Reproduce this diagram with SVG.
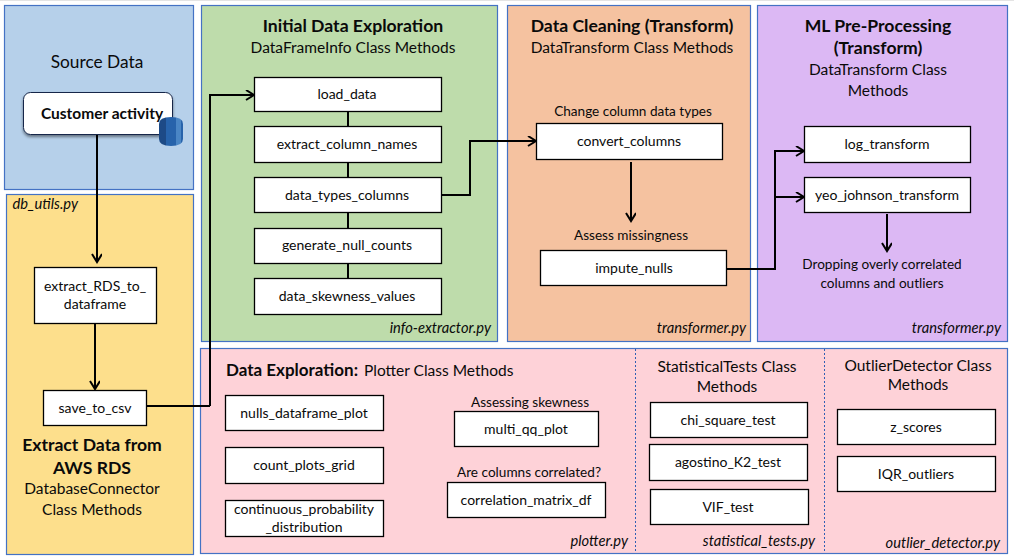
<svg xmlns="http://www.w3.org/2000/svg" width="1014" height="560" viewBox="0 0 1014 560">
<defs>
<style>
text{font-family:Lato,"Noto Sans",sans-serif;fill:#0a0a0a;text-anchor:middle}
.panel{stroke:#4472c4;stroke-width:1.2}
.box rect{fill:#fff;stroke:#000;stroke-width:1.3}
.m{font-size:14px}
.l{font-size:13.6px}
.h{font-size:15.5px}
.b{font-size:17.6px;font-weight:700}
.f{font-size:14.7px;font-style:italic;text-anchor:end}
.c{fill:none;stroke:#000;stroke-width:2}
.d{stroke:#2f5fb3;stroke-width:1;stroke-dasharray:2 2}
</style>
<marker id="a" markerWidth="12" markerHeight="12" refX="9" refY="5" orient="auto" markerUnits="userSpaceOnUse"><path d="M1 0L9 5L1 10" fill="none" stroke="#000" stroke-width="2"/></marker>
<linearGradient id="db" x1="0" x2="1" y1="0" y2="0"><stop offset="0" stop-color="#1d4a86"/><stop offset=".3" stop-color="#1d4a86"/><stop offset=".3" stop-color="#2763ab"/><stop offset=".7" stop-color="#2763ab"/><stop offset=".7" stop-color="#4a86c5"/><stop offset=".9" stop-color="#4a86c5"/><stop offset=".9" stop-color="#2763ab"/></linearGradient>
<filter id="s" x="-10%" y="-10%" width="120%" height="130%"><feDropShadow dx="0" dy="2" stdDeviation="1.5" flood-color="#000" flood-opacity=".45"/></filter>
</defs>
<rect width="1014" height="560" fill="#fff"/>
<rect width="1014" height="1" fill="#e4e4e4"/>
<g id="panels">
<rect id="p-source" class="panel" x="4.500" y="5.500" width="189" height="184" fill="#b6d0ea"/>
<rect id="p-extract" class="panel" x="6.500" y="194.500" width="187" height="360" fill="#fddf8c"/>
<rect id="p-explore" class="panel" x="201.500" y="5.500" width="296" height="336" fill="#bedcab"/>
<rect id="p-clean" class="panel" x="507.500" y="5.500" width="243" height="336" fill="#f5c2a0"/>
<rect id="p-ml" class="panel" x="757.500" y="5.500" width="250" height="336" fill="#dcb8f4"/>
<rect id="p-plot" class="panel" x="200.500" y="348.500" width="807" height="205" fill="#fed2d8"/>
<line class="d" x1="635.500" y1="349" x2="635.500" y2="553"/>
<line class="d" x1="824.500" y1="349" x2="824.500" y2="553"/>
</g>
<g id="panel-labels">
<text x="97" y="68" style="font-size:17.3px">Source Data</text>
<text class="f" x="78" y="209">db_utils.py</text>
<text class="b" x="92" y="451">Extract Data from</text>
<text class="b" x="92" y="474">AWS RDS</text>
<text class="h" x="92" y="494">DatabaseConnector</text>
<text class="h" x="92" y="515">Class Methods</text>
<text class="b" x="353" y="32">Initial Data Exploration</text>
<text class="h" x="353" y="53">DataFrameInfo Class Methods</text>
<text class="f" x="491" y="333">info-extractor.py</text>
<text class="b" x="632" y="32">Data Cleaning (Transform)</text>
<text class="h" x="632" y="53">DataTransform Class Methods</text>
<text class="l" x="633" y="116">Change column data types</text>
<text class="l" x="631" y="240">Assess missingness</text>
<text class="f" x="746" y="333">transformer.py</text>
<text class="b" x="878" y="32">ML Pre-Processing</text>
<text class="b" x="878" y="54">(Transform)</text>
<text class="h" x="878" y="75">DataTransform Class</text>
<text class="h" x="878" y="96">Methods</text>
<text class="l" x="882" y="269">Dropping overly correlated</text>
<text class="l" x="882" y="288">columns and outliers</text>
<text class="f" x="1001" y="333">transformer.py</text>
<text x="226" y="376" style="text-anchor:start;font-size:17px;font-weight:700">Data Exploration:</text>
<text class="h" x="364" y="376" style="text-anchor:start">Plotter Class Methods</text>
<text class="l" x="530" y="407">Assessing skewness</text>
<text class="l" x="529" y="477">Are columns correlated?</text>
<text class="f" x="628" y="546">plotter.py</text>
<text class="h" x="727" y="372">StatisticalTests Class</text>
<text class="h" x="727" y="392">Methods</text>
<text class="f" x="815" y="546">statistical_tests.py</text>
<text class="h" x="918" y="371">OutlierDetector Class</text>
<text class="h" x="918" y="390">Methods</text>
<text class="f" x="1000" y="548">outlier_detector.py</text>
</g>
<g id="connectors">
<path class="c" marker-end="url(#a)" d="M97 135V262"/>
<path class="c" marker-end="url(#a)" d="M95 324V389"/>
<path class="c" d="M147 406H210"/>
<path class="c" marker-end="url(#a)" d="M210 406V95H254"/>
<path class="c" d="M348 111V278"/>
<path class="c" marker-end="url(#a)" d="M441 195H470V141H536"/>
<path class="c" marker-end="url(#a)" d="M631 162V221"/>
<path class="c" marker-end="url(#a)" d="M727 269H775V151H804"/>
<path class="c" marker-end="url(#a)" d="M775 197H804"/>
<path class="c" marker-end="url(#a)" d="M887 214V251"/>
</g>
<g id="customer-activity">
<rect x="23.500" y="92.500" width="149" height="42" rx="7" fill="#fff" stroke="#16274a" stroke-width="1" filter="url(#s)"/>
<text x="102" y="119" style="font-size:15.5px;font-weight:700">Customer activity</text>
<path d="M159 124Q159 117 171 117Q183 117 183 124V139Q183 146 171 146Q159 146 159 139Z" fill="url(#db)"/>
</g>
<g id="extract_RDS" class="box"><rect x="34.500" y="267.500" width="122" height="56"/><text class="m" x="95" y="291">extract_RDS_to_</text><text class="m" x="95" y="309">dataframe</text></g>
<g id="save_to_csv" class="box"><rect x="43.500" y="390.500" width="103" height="35"/><text class="m" x="95" y="413">save_to_csv</text></g>
<g id="load_data" class="box"><rect x="254.500" y="77.500" width="187" height="34"/><text class="m" x="347" y="99">load_data</text></g>
<g id="extract_column_names" class="box"><rect x="254.500" y="126.500" width="187" height="36"/><text class="m" x="347" y="149">extract_column_names</text></g>
<g id="data_types_columns" class="box"><rect x="254.500" y="177.500" width="187" height="35"/><text class="m" x="347" y="200">data_types_columns</text></g>
<g id="generate_null_counts" class="box"><rect x="254.500" y="228.500" width="187" height="35"/><text class="m" x="347" y="250">generate_null_counts</text></g>
<g id="data_skewness_values" class="box"><rect x="254.500" y="278.500" width="187" height="36"/><text class="m" x="347" y="301">data_skewness_values</text></g>
<g id="convert_columns" class="box"><rect x="536.500" y="123.500" width="186" height="36"/><text class="m" x="629" y="146">convert_columns</text></g>
<g id="impute_nulls" class="box"><rect x="540.500" y="250.500" width="186" height="35"/><text class="m" x="634" y="273">impute_nulls</text></g>
<g id="log_transform" class="box"><rect x="804.500" y="126.500" width="166" height="36"/><text class="m" x="887" y="149">log_transform</text></g>
<g id="yeo_johnson_transform" class="box"><rect x="804.500" y="177.500" width="166" height="35"/><text class="m" x="887" y="200">yeo_johnson_transform</text></g>
<g id="nulls_dataframe_plot" class="box"><rect x="225.500" y="395.500" width="158" height="35"/><text class="m" x="304" y="418">nulls_dataframe_plot</text></g>
<g id="count_plots_grid" class="box"><rect x="225.500" y="447.500" width="158" height="36"/><text class="m" x="304" y="470">count_plots_grid</text></g>
<g id="continuous_probability" class="box"><rect x="225.500" y="500.500" width="158" height="36"/><text class="m" x="304" y="514">continuous_probability</text><text class="m" x="304" y="532">_distribution</text></g>
<g id="multi_qq_plot" class="box"><rect x="454.500" y="411.500" width="144" height="35"/><text class="m" x="526" y="434">multi_qq_plot</text></g>
<g id="correlation_matrix_df" class="box"><rect x="447.500" y="482.500" width="158" height="35"/><text class="m" x="526" y="505">correlation_matrix_df</text></g>
<g id="chi_square_test" class="box"><rect x="650.500" y="402.500" width="157" height="35"/><text class="m" x="728" y="425">chi_square_test</text></g>
<g id="agostino_K2_test" class="box"><rect x="649.500" y="444.500" width="158" height="36"/><text class="m" x="728" y="467">agostino_K2_test</text></g>
<g id="VIF_test" class="box"><rect x="650.500" y="489.500" width="158" height="35"/><text class="m" x="728" y="512">VIF_test</text></g>
<g id="z_scores" class="box"><rect x="837.500" y="409.500" width="158" height="35"/><text class="m" x="916" y="432">z_scores</text></g>
<g id="IQR_outliers" class="box"><rect x="837.500" y="456.500" width="158" height="35"/><text class="m" x="916" y="479">IQR_outliers</text></g>
</svg>
